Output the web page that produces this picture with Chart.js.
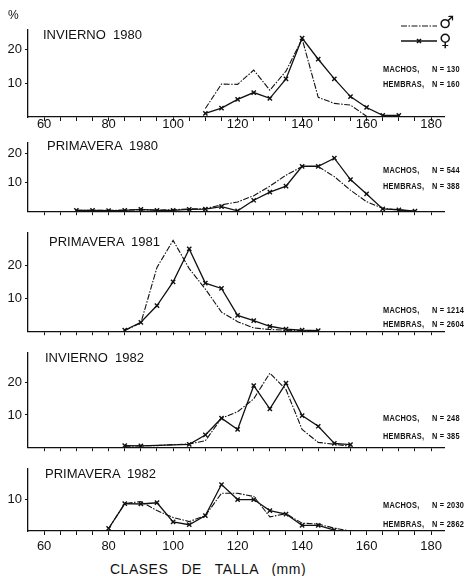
<!DOCTYPE html>
<html>
<head>
<meta charset="utf-8">
<script src="https://cdn.jsdelivr.net/npm/chart.js@4.4.1/dist/chart.umd.min.js"></script>
<style>
  body { margin: 0; background: #fff; }
  #wrap { position: relative; width: 468px; height: 576px; overflow: hidden;
          font-family: "Liberation Sans", Arial, sans-serif; color: #111; }
  #wrap canvas { position: absolute; left: 0; }
  .txt { position: absolute; white-space: pre; line-height: 14px; }
  .title { font-size: 13px; }
  .n { font-size: 9px; font-weight: bold; letter-spacing: 0.3px; line-height: 10px;
       transform: scaleX(0.82); transform-origin: left center; }
</style>
</head>
<body>
<div id="wrap"></div>
<script>
// Size classes (mm) and percentages for each season
const tallasInv80  = [110, 115, 120, 125, 130, 135, 140, 145, 150, 155, 160, 165, 170];
const machosInv80  = [2.5, 9.7, 9.6, 13.8, 7.9, 13.5, 23, 5.8, 4, 3.5, 0.2, null, null];
const hembrasInv80 = [1.1, 2.6, 5.2, 7.2, 5.5, 11.2, 23.2, 17, 11.2, 6, 2.8, 0.5, 0.5];

const tallasPri80  = [70, 75, 80, 85, 90, 95, 100, 105, 110, 115, 120, 125, 130, 135, 140, 145, 150, 155, 160, 165, 170, 175];
const machosPri80  = [0.3, 0.3, 0.3, 0.4, 0.5, 0.4, 0.5, 0.8, 0.9, 2.2, 3.2, 5.4, 8.7, 12.5, 15.5, 15.5, 12, 7.3, 3.3, 1, 0.4, 0];
const hembrasPri80 = [0.3, 0.3, 0.2, 0.3, 0.6, 0.3, 0.3, 0.6, 0.7, 1.6, 0.1, 3.8, 6.6, 8.7, 15.6, 15.6, 18.4, 11, 6, 0.8, 0.5, 0];

const tallasPri81  = [85, 90, 95, 100, 105, 110, 115, 120, 125, 130, 135, 140, 145];
const machosPri81  = [0.2, 2.5, 19.4, 27.6, 19, 12.8, 5.8, 2.9, 1, 0.5, 0.3, 0.2, 0.1];
const hembrasPri81 = [0.3, 2.7, 7.8, 15, 25, 14.6, 13, 4.8, 3.2, 1.5, 0.6, 0.3, 0.2];

const tallasInv82  = [85, 90, 95, 100, 105, 110, 115, 120, 125, 130, 135, 140, 145, 150, 155];
const machosInv82  = [0.3, 0.4, 0.5, 0.8, 1, 2, 9, 11, 15, 23, 17.9, 5.5, 1.5, 0.9, 0.3];
const hembrasInv82 = [0.5, 0.4, null, null, 0.9, 3.8, 9, 5.5, 19.1, 11.9, 19.9, 9.8, 6.5, 1.2, 0.8];

const tallasPri82  = [80, 85, 90, 95, 100, 105, 110, 115, 120, 125, 130, 135, 140, 145, 150, 155];
const machosPri82  = [0.8, 8.7, 9.4, 6.5, 4.3, 3, 4.9, 12, 12, 11, 4.5, 5.5, 2.5, 2.2, 0.9, 0];
const hembrasPri82 = [0.8, 8.7, 8.6, 9, 2.9, 2, 4.9, 14.8, 10, 10, 6.5, 5.4, 1.8, 1.8, 0.3, null];

// Tick labels and panel texts
const xTickValues = [60, 65, 70, 75, 80, 85, 90, 95, 100, 105, 110, 115, 120, 125, 130, 135, 140, 145, 150, 155, 160, 165, 170, 175, 180];
const xLabelValues = [60, 80, 100, 120, 140, 160, 180];
const titles   = ['INVIERNO  1980', 'PRIMAVERA  1980', 'PRIMAVERA  1981', 'INVIERNO  1982', 'PRIMAVERA  1982'];
const nMachos  = ['130', '544', '1214', '248', '2030'];
const nHembras = ['160', '388', '2604', '385', '2862'];

const INK = '#111';
const FONT = '"Liberation Sans", Arial, sans-serif';
const MALE_DASH = [6, 1.5, 1.5, 1.5];

// layout of each strip: canvas top/height, plot top/bottom, y max, y ticks
const panels = [
  { top: 0,   h: 132, plotTop: 30,  plotBottom: 117, ymax: 25.6, yTicks: [10, 20], showX: true, labelPad: -4,
    tallas: tallasInv80, machos: machosInv80, hembras: hembrasInv80, titleX: 43, titleY: 35, nY: [69, 84] },
  { top: 132, h: 90,  plotTop: 138, plotBottom: 214, ymax: 23.75, yTicks: [10, 20], showX: false, labelPad: 0,
    tallas: tallasPri80, machos: machosPri80, hembras: hembrasPri80, titleX: 47, titleY: 146, nY: [170, 186] },
  { top: 222, h: 120, plotTop: 232, plotBottom: 335, ymax: 29.9, yTicks: [10, 20], showX: false, labelPad: 0,
    tallas: tallasPri81, machos: machosPri81, hembras: hembrasPri81, titleX: 49, titleY: 242, nY: [310, 324] },
  { top: 342, h: 116, plotTop: 352, plotBottom: 450, ymax: 29.3, yTicks: [10, 20], showX: false, labelPad: 0,
    tallas: tallasInv82, machos: machosInv82, hembras: hembrasInv82, titleX: 45, titleY: 358, nY: [418, 436] },
  { top: 458, h: 100, plotTop: 466, plotBottom: 531, ymax: 19.8, yTicks: [10], showX: true, labelPad: 4,
    tallas: tallasPri82, machos: machosPri82, hembras: hembrasPri82, titleX: 45, titleY: 474, nY: [505, 524] }
];

const wrap = document.getElementById('wrap');

function addText(text, cls, left, centerY, extra) {
  const d = document.createElement('div');
  d.className = 'txt ' + cls;
  d.textContent = text;
  d.style.left = left + 'px';
  d.style.top = (centerY - (cls === 'n' ? 5 : 7)) + 'px';
  if (extra) Object.assign(d.style, extra);
  wrap.appendChild(d);
}

function toPoints(tallas, vals) {
  const pts = [];
  tallas.forEach((t, i) => { if (vals[i] !== null) pts.push({ x: t, y: vals[i] }); });
  return pts;
}

// sex symbols legend, top right of the first strip
const legendPlugin = {
  id: 'sexLegend',
  afterDraw(chart) {
    const c = chart.ctx;
    c.save();
    c.strokeStyle = INK;
    c.fillStyle = INK;
    c.lineWidth = 1.1;
    c.setLineDash(MALE_DASH);
    c.beginPath(); c.moveTo(401, 26); c.lineTo(437, 26); c.stroke();
    c.setLineDash([]);
    c.lineWidth = 1.3;
    c.beginPath(); c.moveTo(401, 41); c.lineTo(437, 41); c.stroke();
    c.beginPath();
    c.moveTo(417, 39); c.lineTo(421, 43); c.moveTo(421, 39); c.lineTo(417, 43);
    c.lineWidth = 1.6; c.stroke();
    c.font = '17px "DejaVu Sans"';
    c.textBaseline = 'middle';
    c.fillText('\u2642', 439, 24);
    c.fillText('\u2640', 439, 42);
    c.font = '12px ' + FONT;
    c.fillText('%', 8, 16);
    c.restore();
  }
};

panels.forEach((p, k) => {
  const cv = document.createElement('canvas');
  cv.width = 468; cv.height = p.h;
  cv.style.top = p.top + 'px';
  wrap.appendChild(cv);

  new Chart(cv.getContext('2d'), {
    type: 'line',
    data: {
      datasets: [
        { label: 'machos', data: toPoints(p.tallas, p.machos), borderColor: INK, borderWidth: 1.1,
          borderDash: MALE_DASH, pointRadius: 0, tension: 0, fill: false },
        { label: 'hembras', data: toPoints(p.tallas, p.hembras), borderColor: INK, borderWidth: 1.3,
          pointStyle: 'crossRot', pointRadius: 3, pointBorderWidth: 1.4, pointBorderColor: INK,
          pointBackgroundColor: INK, tension: 0, fill: false }
      ]
    },
    options: {
      responsive: false,
      animation: false,
      layout: { padding: { top: p.plotTop - p.top, right: 24, left: 0, bottom: 0 } },
      plugins: { legend: { display: false }, tooltip: { enabled: false } },
      scales: {
        x: {
          type: 'linear', min: 55, max: 184,
          afterBuildTicks: s => { s.ticks = xTickValues.map(v => ({ value: v })); },
          afterFit: s => { s.height = p.top + p.h - p.plotBottom; },
          grid: { drawOnChartArea: false, drawTicks: true, tickLength: 4, color: INK, lineWidth: 1 },
          border: { color: INK, width: 1.3 },
          ticks: {
            autoSkip: false, maxRotation: 0, padding: p.labelPad, color: INK,
            font: { family: FONT, size: 13 },
            callback: v => (p.showX && xLabelValues.includes(v)) ? String(v) : ''
          }
        },
        y: {
          min: 0, max: p.ymax,
          afterBuildTicks: s => { s.ticks = p.yTicks.map(v => ({ value: v })); },
          afterFit: s => { s.width = 28; },
          grid: { drawOnChartArea: false, drawTicks: true, tickLength: 3, color: INK },
          border: { color: INK, width: 1.3 },
          ticks: { padding: 3, color: INK, font: { family: FONT, size: 13 } }
        }
      }
    },
    plugins: k === 0 ? [legendPlugin] : []
  });

  addText(titles[k], 'title', p.titleX, p.titleY);
  addText('MACHOS,', 'n', 383, p.nY[0]);
  addText('N = ' + nMachos[k], 'n', 432, p.nY[0]);
  addText('HEMBRAS,', 'n', 383, p.nY[1]);
  addText('N = ' + nHembras[k], 'n', 432, p.nY[1]);
});

addText('CLASES   DE   TALLA   (mm)', 'title', 110, 569, { fontSize: '14px', letterSpacing: '0.5px' });
</script>
</body>
</html>
